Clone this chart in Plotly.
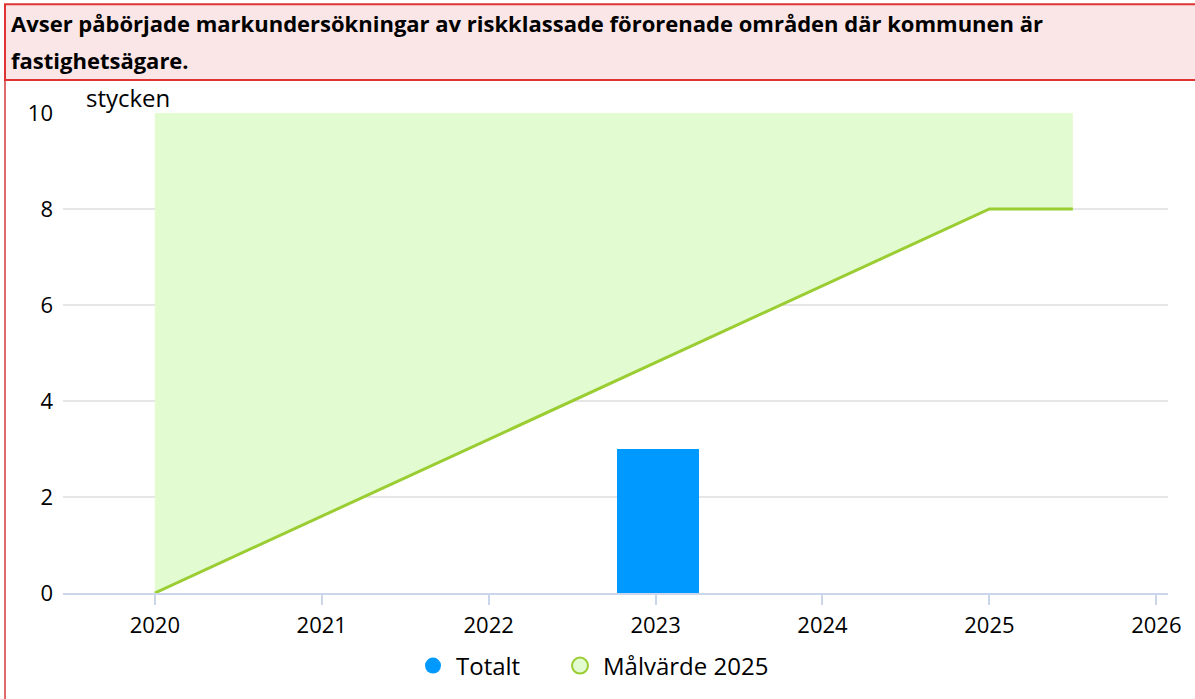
import plotly.graph_objects as go

# Data
years = [2020, 2021, 2022, 2023, 2024, 2025, 2026]
totalt_x = [2023]
totalt_y = [3]
target_x = [2020, 2025, 2025.5]
target_y = [0, 8, 8]
target_top = [10, 10, 10]

title_line1 = "Avser påbörjade markundersökningar av riskklassade förorenade områden där kommunen är"
title_line2 = "fastighetsägare."
unit_label = "stycken"

W, H = 1195, 699
L, R, T, B = 63, 27, 113, 105
pw, ph = W - L - R, H - T - B


def px_x(p):
    return (p - L) / pw


def px_y(p):
    return (H - B - p) / ph


FONT = "Open Sans"
GREEN_LINE = "#9ACD32"
GREEN_FILL = "#E2FBD0"
BLUE = "#0099FF"

fig = go.Figure()

# upper edge of the target area (invisible)
fig.add_trace(go.Scatter(
    x=target_x, y=target_top, mode="lines",
    line=dict(width=0, color=GREEN_FILL),
    showlegend=False, hoverinfo="skip",
))
# target line, filled up to the upper edge
fig.add_trace(go.Scatter(
    x=target_x, y=target_y, mode="lines",
    line=dict(width=3, color=GREEN_LINE),
    fill="tonexty", fillcolor=GREEN_FILL,
    showlegend=False,
))
fig.add_trace(go.Bar(
    x=totalt_x, y=totalt_y, width=0.49, offset=-0.23,
    marker=dict(color=BLUE, line=dict(width=0)),
    showlegend=False,
))

# legend entries
fig.add_trace(go.Scatter(
    x=[None], y=[None], mode="markers", name="Totalt", legend="legend",
    marker=dict(symbol="circle", size=20, color=BLUE, line=dict(width=0)),
))
fig.add_trace(go.Scatter(
    x=[None], y=[None], mode="markers", name="Målvärde 2025", legend="legend2",
    marker=dict(symbol="circle", size=20, color=GREEN_FILL,
                line=dict(width=2, color=GREEN_LINE)),
))

# title box and left frame
fig.add_shape(type="rect", xref="paper", yref="paper",
              x0=px_x(5), x1=px_x(1200), y0=px_y(80), y1=px_y(4),
              fillcolor="#FAE6E6", line=dict(color="#E03434", width=2),
              layer="above")
fig.add_shape(type="line", xref="paper", yref="paper",
              x0=px_x(5), x1=px_x(5), y0=px_y(81), y1=px_y(702),
              line=dict(color="#E06A6A", width=2))

fig.add_annotation(xref="paper", yref="paper", x=px_x(9), y=px_y(23),
                   xanchor="left", yanchor="middle", showarrow=False,
                   text="<b>" + title_line1 + "</b>",
                   font=dict(family=FONT, size=22, color="#000000"))
fig.add_annotation(xref="paper", yref="paper", x=px_x(9), y=px_y(60),
                   xanchor="left", yanchor="middle", showarrow=False,
                   text="<b>" + title_line2 + "</b>",
                   font=dict(family=FONT, size=22, color="#000000"))
fig.add_annotation(xref="paper", yref="paper", x=px_x(84), y=px_y(97),
                   xanchor="left", yanchor="middle", showarrow=False,
                   text=unit_label,
                   font=dict(family=FONT, size=24, color="#000000"))

fig.update_xaxes(
    range=[2019.45, 2026.07], tickvals=years, ticktext=[str(y) for y in years],
    showgrid=False, showline=True, linecolor="#CCD6EB", linewidth=2,
    ticks="outside", ticklen=10, tickcolor="#CCD6EB", tickwidth=2,
    tickfont=dict(family=FONT, size=22, color="#000000"),
    ticklabelstandoff=2,
    zeroline=False, fixedrange=True,
)
fig.update_yaxes(
    range=[0, 10], tickvals=[0, 2, 4, 6, 8, 10],
    showgrid=True, gridcolor="#E6E6E6", gridwidth=2,
    zeroline=False, showline=False, ticks="",
    tickfont=dict(family=FONT, size=22, color="#000000"),
    ticklabelstandoff=9,
    fixedrange=True,
)

legend_style = dict(orientation="h", xanchor="left", y=px_y(666), yanchor="middle",
                    font=dict(family=FONT, size=24, color="#000000"),
                    itemsizing="trace", itemwidth=36, bgcolor="rgba(0,0,0,0)")

fig.update_layout(
    width=W, height=H,
    margin=dict(l=L, r=R, t=T, b=B),
    paper_bgcolor="#FFFFFF", plot_bgcolor="#FFFFFF",
    bargap=0,
    legend=dict(x=px_x(410), **legend_style),
    legend2=dict(x=px_x(557), **legend_style),
    showlegend=True,
)

fig.write_html("out.html")
